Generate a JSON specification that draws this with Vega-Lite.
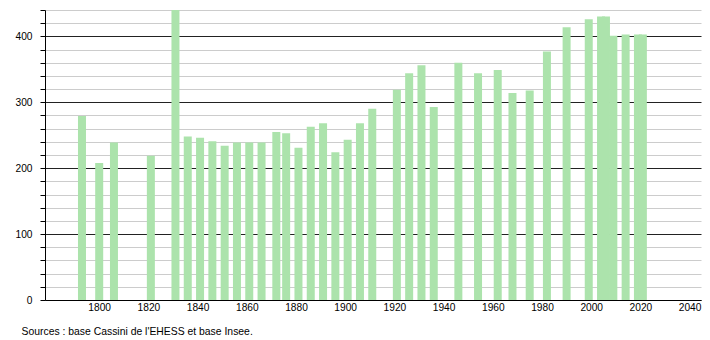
{
  "$schema": "https://vega.github.io/schema/vega-lite/v6.json",
  "width": 656,
  "height": 290,
  "autosize": {"type": "none"},
  "padding": {"left": 45, "top": 10, "right": 9, "bottom": 40},
  "background": "white",
  "config": {"view": {"stroke": null}, "font": "Liberation Sans"},
  "data": {"values": [
    {"year": 1793, "pop": 279},
    {"year": 1800, "pop": 208},
    {"year": 1806, "pop": 239},
    {"year": 1821, "pop": 219},
    {"year": 1831, "pop": 440},
    {"year": 1836, "pop": 248},
    {"year": 1841, "pop": 246},
    {"year": 1846, "pop": 241},
    {"year": 1851, "pop": 234},
    {"year": 1856, "pop": 239},
    {"year": 1861, "pop": 239},
    {"year": 1866, "pop": 239},
    {"year": 1872, "pop": 255},
    {"year": 1876, "pop": 253},
    {"year": 1881, "pop": 231},
    {"year": 1886, "pop": 263},
    {"year": 1891, "pop": 268},
    {"year": 1896, "pop": 224},
    {"year": 1901, "pop": 243},
    {"year": 1906, "pop": 268},
    {"year": 1911, "pop": 290},
    {"year": 1921, "pop": 319},
    {"year": 1926, "pop": 344},
    {"year": 1931, "pop": 356},
    {"year": 1936, "pop": 293},
    {"year": 1946, "pop": 360},
    {"year": 1954, "pop": 344},
    {"year": 1962, "pop": 349},
    {"year": 1968, "pop": 314},
    {"year": 1975, "pop": 318},
    {"year": 1982, "pop": 377},
    {"year": 1990, "pop": 414},
    {"year": 1999, "pop": 426},
    {"year": 2004, "pop": 430},
    {"year": 2006, "pop": 430},
    {"year": 2009, "pop": 401},
    {"year": 2014, "pop": 403},
    {"year": 2019, "pop": 403},
    {"year": 2021, "pop": 403}
  ]},
  "mark": {"type": "bar", "size": 8, "color": "#ace3ac", "clip": true},
  "encoding": {
    "x": {
      "field": "year",
      "type": "quantitative",
      "scale": {"domain": [1780, 2042.6], "nice": false, "zero": false},
      "axis": {
        "values": [1800, 1820, 1840, 1860, 1880, 1900, 1920, 1940, 1960, 1980, 2000, 2020, 2040],
        "format": "d",
        "grid": false,
        "ticks": false,
        "domainColor": "#000000",
        "labelFontSize": 10.2,
        "labelColor": "#000000",
        "labelPadding": 2,
        "labelFlush": false,
        "title": "Sources : base Cassini de l'EHESS et base Insee.",
        "titleX": -24,
        "titleY": 34,
        "titleAlign": "left",
        "titleAnchor": "start",
        "titleBaseline": "alphabetic",
        "titleFontWeight": "normal",
        "titleFontSize": 10.4,
        "titleColor": "#000000"
      }
    },
    "y": {
      "field": "pop",
      "type": "quantitative",
      "scale": {"domain": [0, 440], "nice": false},
      "axis": {
        "values": [0, 20, 40, 60, 80, 100, 120, 140, 160, 180, 200, 220, 240, 260, 280, 300, 320, 340, 360, 380, 400, 420, 440],
        "title": null,
        "grid": true,
        "gridColor": {"condition": {"test": "datum.value % 100 === 0", "value": "#222222"}, "value": "#cccccc"},
        "gridOpacity": 1,
        "labelExpr": "datum.value % 100 === 0 ? datum.label : ''",
        "tickSize": 5,
        "tickColor": "#000000",
        "domainColor": "#000000",
        "labelFontSize": 10.2,
        "labelColor": "#000000",
        "labelPadding": 8
      }
    }
  }
}
